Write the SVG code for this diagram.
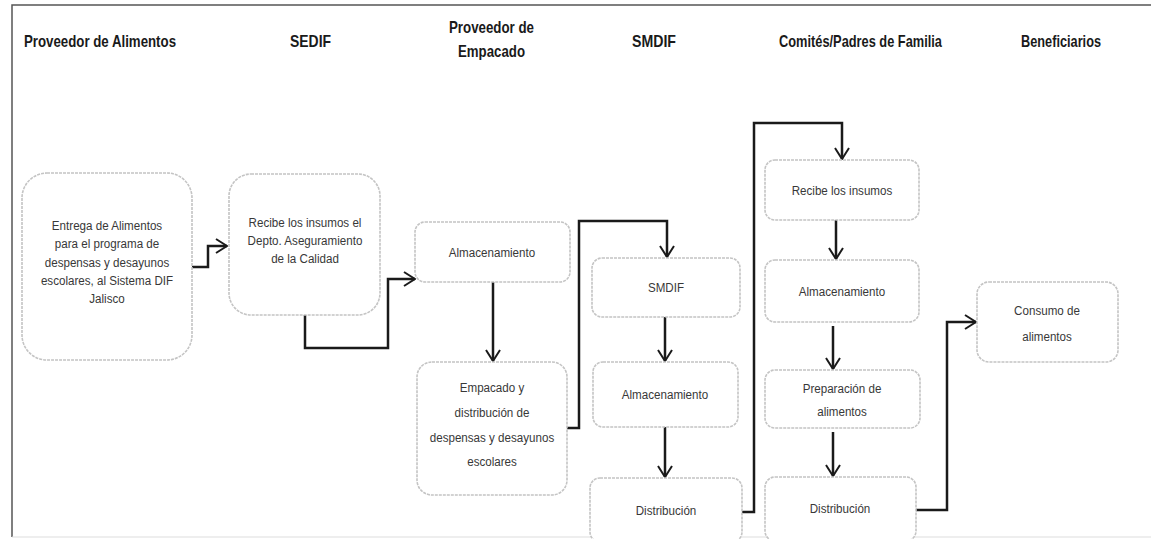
<svg xmlns="http://www.w3.org/2000/svg" width="1151" height="539" viewBox="0 0 1151 539">
<style>
.hdr{font-family:"Liberation Sans",Arial,sans-serif;font-weight:bold;font-size:17px;fill:#1a1a1a}
.box{fill:#ffffff;stroke:#c4c4c4;stroke-width:1.6;stroke-dasharray:3 1}
.lbl{font-family:"Liberation Sans",Arial,sans-serif;font-size:13.5px;fill:#383838;text-anchor:middle}
.con{fill:none;stroke:#1a1a1a;stroke-width:2.5;marker-end:url(#arr)}
</style>
<defs>
<marker id="arr" markerUnits="userSpaceOnUse" viewBox="0 0 13 16" refX="12" refY="8" markerWidth="13" markerHeight="16" orient="auto">
<path d="M1,1 L12,8 L1,15" fill="none" stroke="#1a1a1a" stroke-width="2"/>
</marker>
</defs>
<rect x="0" y="0" width="1151" height="539" fill="#ffffff"/>
<path d="M12,537 V5 H1151" fill="none" stroke="#555555" stroke-width="1.5"/>
<path d="M12,537 H1151" fill="none" stroke="#dddddd" stroke-width="1"/>
<g id="headers">
<text class="hdr" x="24" y="47" textLength="152" lengthAdjust="spacingAndGlyphs">Proveedor de Alimentos</text>
<text class="hdr" x="290" y="47" textLength="41" lengthAdjust="spacingAndGlyphs">SEDIF</text>
<text class="hdr" x="449" y="33" textLength="85" lengthAdjust="spacingAndGlyphs">Proveedor de</text>
<text class="hdr" x="458" y="57" textLength="67" lengthAdjust="spacingAndGlyphs">Empacado</text>
<text class="hdr" x="632" y="47" textLength="44" lengthAdjust="spacingAndGlyphs">SMDIF</text>
<text class="hdr" x="779" y="47" textLength="163" lengthAdjust="spacingAndGlyphs">Comités/Padres de Familia</text>
<text class="hdr" x="1021" y="47" textLength="80" lengthAdjust="spacingAndGlyphs">Beneficiarios</text>
</g>
<g id="connectors">
<path class="con" d="M192,267 H208 V246 H227"/>
<path class="con" d="M305,315 V348 H388 V279 H415"/>
<path class="con" d="M493,282 V361"/>
<path class="con" d="M567,428 H579 V221 H667 V257"/>
<path class="con" d="M665,317 V361"/>
<path class="con" d="M665,427 V477"/>
<path class="con" d="M742,512 H754 V123 H842 V159"/>
<path class="con" d="M836,220 V259"/>
<path class="con" d="M833,326 V369"/>
<path class="con" d="M833,432 V476"/>
<path class="con" d="M916,510 H947 V322 H976"/>
</g>
<g id="n1">
<rect class="box" x="22" y="173" width="170" height="187" rx="25"/>
<g transform="translate(107 0) scale(0.86 1)">
<text class="lbl" x="0" y="230">Entrega de  Alimentos</text>
<text class="lbl" x="0" y="248">para el programa de</text>
<text class="lbl" x="0" y="267">despensas y desayunos</text>
<text class="lbl" x="0" y="285">escolares, al Sistema DIF</text>
<text class="lbl" x="0" y="303">Jalisco</text>
</g>
</g>
<g id="n2">
<rect class="box" x="229" y="174" width="151" height="141" rx="22"/>
<g transform="translate(305 0) scale(0.86 1)">
<text class="lbl" x="0" y="227">Recibe los insumos el</text>
<text class="lbl" x="0" y="245">Depto. Aseguramiento</text>
<text class="lbl" x="0" y="263">de la Calidad</text>
</g>
</g>
<g id="n3">
<rect class="box" x="415" y="222" width="155" height="60" rx="10"/>
<g transform="translate(492 0) scale(0.86 1)">
<text class="lbl" x="0" y="257">Almacenamiento</text>
</g>
</g>
<g id="n4">
<rect class="box" x="417" y="362" width="150" height="133" rx="15"/>
<g transform="translate(492 0) scale(0.86 1)">
<text class="lbl" x="0" y="392">Empacado   y</text>
<text class="lbl" x="0" y="417">distribución de</text>
<text class="lbl" x="0" y="442">despensas y desayunos</text>
<text class="lbl" x="0" y="466">escolares</text>
</g>
</g>
<g id="n5">
<rect class="box" x="592" y="258" width="148" height="59" rx="10"/>
<g transform="translate(666 0) scale(0.86 1)">
<text class="lbl" x="0" y="292">SMDIF</text>
</g>
</g>
<g id="n6">
<rect class="box" x="593" y="362" width="145" height="65" rx="10"/>
<g transform="translate(665 0) scale(0.86 1)">
<text class="lbl" x="0" y="399">Almacenamiento</text>
</g>
</g>
<g id="n7">
<rect class="box" x="590" y="478" width="152" height="64" rx="10"/>
<g transform="translate(666 0) scale(0.86 1)">
<text class="lbl" x="0" y="515">Distribución</text>
</g>
</g>
<g id="n8">
<rect class="box" x="765" y="160" width="154" height="60" rx="10"/>
<g transform="translate(842 0) scale(0.86 1)">
<text class="lbl" x="0" y="195">Recibe los insumos</text>
</g>
</g>
<g id="n9">
<rect class="box" x="765" y="260" width="154" height="62" rx="10"/>
<g transform="translate(842 0) scale(0.86 1)">
<text class="lbl" x="0" y="296">Almacenamiento</text>
</g>
</g>
<g id="n10">
<rect class="box" x="765" y="370" width="155" height="58" rx="10"/>
<g transform="translate(842 0) scale(0.86 1)">
<text class="lbl" x="0" y="393">Preparación de</text>
<text class="lbl" x="0" y="416">alimentos</text>
</g>
</g>
<g id="n11">
<rect class="box" x="765" y="477" width="151" height="64" rx="10"/>
<g transform="translate(840 0) scale(0.86 1)">
<text class="lbl" x="0" y="513">Distribución</text>
</g>
</g>
<g id="n12">
<rect class="box" x="977" y="282" width="141" height="80" rx="12"/>
<g transform="translate(1047 0) scale(0.86 1)">
<text class="lbl" x="0" y="315">Consumo de</text>
<text class="lbl" x="0" y="341">alimentos</text>
</g>
</g>
</svg>
